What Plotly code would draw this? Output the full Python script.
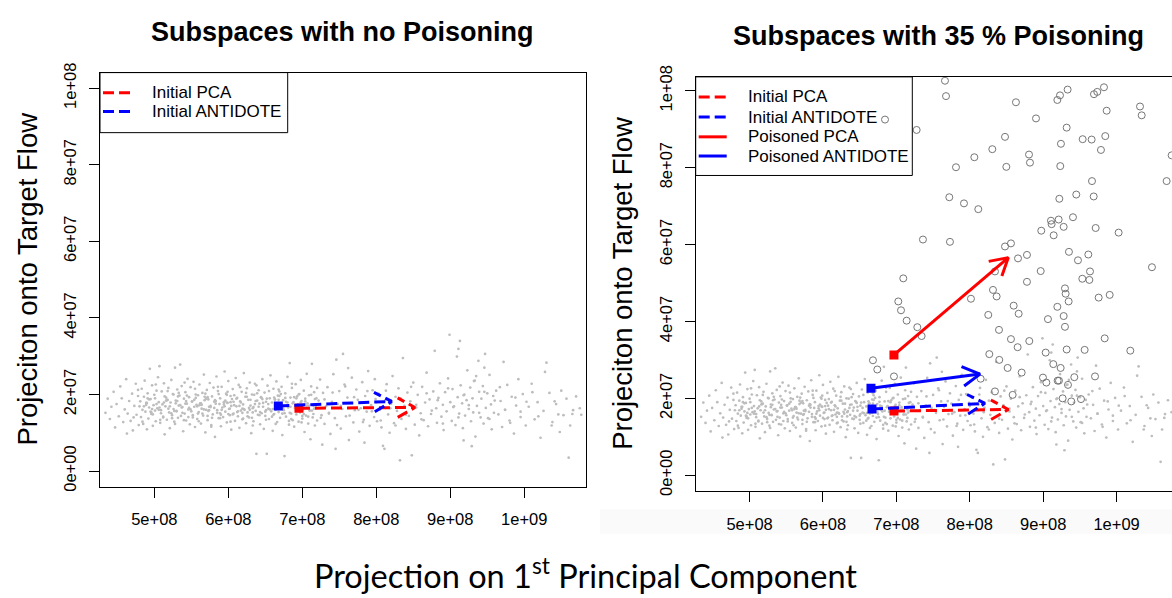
import math
import plotly.graph_objects as go

W, H = 1172, 598
M = 1e6

# ---------------- data (x and y in units of 1e6) ----------------
# background traffic cloud (approximate)
cloud_x_a = [434, 437, 440, 442, 445, 447, 449, 452, 454, 456, 458, 460, 462, 464, 466, 468, 470, 471, 473, 475,
             476, 478, 479, 480, 463]
cloud_y_a = [15.2, 18.9, 13.6, 16.8, 20.7, 11.4, 17.5, 14.3, 22.1, 19.0, 12.8, 16.1, 24.0, 15.0, 18.3, 13.1, 20.2,
             10.6, 17.0, 22.8, 14.7, 19.6, 12.0, 16.9, 9.8]

cloud_x_b = [481, 482, 483, 484, 485, 486, 487, 488, 489, 490, 491, 492, 493, 494, 495, 496, 497, 498, 499, 500,
             501, 502, 503, 504, 505, 506, 507, 508, 509, 510, 511, 512, 513, 514, 515, 516, 517, 518, 519, 520,
             521, 522, 523, 524, 525, 526, 527, 528, 529, 530, 531, 532, 533, 534, 535, 536, 537, 538, 539, 540,
             541, 542, 543, 544, 545, 546, 547, 548, 549, 550, 551, 552, 553, 554, 555, 556, 557, 558, 559, 560]
cloud_y_b = [18.2, 14.1, 21.5, 16.0, 12.3, 19.4, 23.6, 15.5, 17.8, 10.9,
             20.3, 13.7, 16.6, 26.7, 18.8, 14.9, 22.4, 11.8, 17.2, 19.9,
             15.8, 13.0, 21.0, 16.4, 24.5, 18.0, 27.4, 12.6, 15.1, 20.8,
             17.4, 14.2, 22.9, 9.6, 16.9, 19.2, 13.4, 18.6, 21.7, 15.3,
             11.2, 17.9, 23.8, 14.6, 20.1, 16.2, 12.9, 27.0, 18.4, 15.7,
             21.3, 13.9, 17.1, 19.7, 27.8, 14.4, 22.2, 16.7, 10.4, 18.9,
             15.0, 20.6, 13.2, 17.6, 24.1, 16.1, 19.3, 12.2, 21.9, 15.6,
             18.1, 14.0, 23.3, 16.8, 11.5, 20.0, 17.3, 13.6, 19.8, 15.4]

cloud_x_c = [561, 562, 563, 564, 565, 566, 567, 568, 569, 570, 571, 572, 573, 574, 575, 576, 577, 578, 579, 580,
             581, 582, 583, 584, 585, 586, 587, 588, 589, 590, 591, 592, 593, 594, 595, 596, 597, 598, 599, 600,
             601, 602, 603, 604, 605, 606, 607, 608, 609, 610, 611, 612, 613, 614, 615, 616, 617, 618, 619, 620,
             621, 622, 623, 624, 625, 626, 627, 628, 629, 630, 631, 632, 633, 634, 635, 636, 637, 638, 639, 640]
cloud_y_c = [22.6, 17.7, 12.4, 16.3, 20.4, 14.5, 25.2, 18.5, 10.1, 16.0,
             21.2, 13.3, 18.7, 15.9, 23.0, 17.0, 12.0, 19.5, 14.8, 21.8,
             16.5, 8.9, 18.3, 24.7, 15.2, 20.9, 13.8, 17.5, 19.0, 11.7,
             22.0, 16.6, 14.1, 18.0, 26.0, 15.5, 20.2, 12.7, 17.8, 23.5,
             16.2, 14.6, 19.6, 10.8, 18.8, 21.4, 15.0, 17.2, 13.1, 24.3,
             16.9, 19.1, 14.3, 22.5, 11.3, 18.2, 15.8, 20.7, 13.5, 17.4,
             25.6, 16.0, 19.4, 12.5, 21.6, 15.3, 18.6, 14.0, 23.1, 17.1,
             9.9, 20.0, 16.4, 13.0, 19.9, 22.8, 15.7, 4.5, 18.4, 14.7]

cloud_x_d = [641, 642, 643, 644, 645, 646, 647, 648, 649, 650, 651, 652, 653, 654, 655, 656, 657, 658, 659, 660,
             661, 662, 663, 664, 665, 666, 667, 668, 669, 670, 671, 672, 673, 674, 675, 676, 677, 678, 679, 680,
             681, 682, 683, 684, 685, 686, 687, 688, 689, 690, 691, 692, 693, 694, 695, 696, 697, 698, 699, 700,
             701, 702, 703, 704, 705, 706, 707, 708, 709, 710, 712, 713, 714, 715, 716, 717, 718, 719, 720, 711]
cloud_y_d = [21.1, 17.6, 12.2, 19.3, 15.1, 24.0, 16.8, 11.0, 20.5, 14.4,
             18.1, 4.5, 22.3, 16.3, 13.6, 19.0, 25.0, 15.6, 17.9, 10.5,
             21.5, 14.9, 18.7, 16.0, 23.4, 12.8, 19.7, 15.4, 20.8, 13.9,
             17.3, 22.0, 9.4, 18.5, 15.9, 3.9, 20.3, 14.2, 17.0, 24.6,
             16.6, 12.1, 28.2, 19.2, 15.0, 21.7, 13.3, 18.0, 11.6, 16.5,
             22.7, 14.8, 19.5, 17.4, 12.9, 20.1, 15.3, 23.8, 18.3, 13.7,
             16.1, 21.0, 10.2, 18.9, 14.5, 25.4, 17.7, 12.4, 19.8, 15.8,
             22.1, 28.0, 14.0, 17.1, 20.6, 11.9, 16.7, 19.0, 13.2, 8.3]

cloud_x_core = [486, 493, 498, 503, 509, 514, 519, 524, 529, 533, 538, 543, 547, 552, 556, 561, 565, 570, 574, 578,
                583, 587, 591, 596, 600, 604, 608, 613, 617, 621, 626, 630, 634, 639, 643, 647, 652, 656, 661, 665,
                669, 674, 678, 683, 687, 692, 696, 700, 704, 709, 713, 717, 489, 506, 517, 527, 542, 558, 572, 589,
                603, 619, 636, 651, 668, 684, 699, 715, 495, 531, 567, 598, 633, 662, 694]
cloud_y_core = [16.9, 18.7, 14.8, 17.5, 15.9, 19.5, 16.3, 13.8, 17.7, 20.4, 15.2, 18.3, 16.5, 14.6, 19.1, 17.2,
                15.0, 18.9, 16.8, 13.9, 17.6, 20.1, 16.0, 18.4, 14.9, 17.0, 19.8, 15.6, 17.9, 16.2, 14.3, 18.6,
                16.7, 20.3, 15.4, 17.8, 18.9, 16.1, 14.7, 17.4, 19.6, 16.4, 18.1, 15.2, 17.7, 19.0, 16.6, 14.4,
                18.2, 17.1, 15.8, 18.8, 17.3, 16.0, 18.5, 15.7, 17.6, 16.9, 19.3, 15.1, 18.0, 16.3, 17.5, 15.9,
                18.6, 16.8, 17.2, 14.9, 15.5, 18.3, 16.1, 17.9, 15.3, 19.2, 16.6]

cloud_x_band = [472, 478, 484, 491, 497, 502, 508, 513, 518, 523, 528, 532, 537, 541, 546, 551, 555, 560, 564, 569,
                573, 577, 582, 586, 590, 595, 599, 603, 607, 612, 616, 620, 625, 629, 633, 638, 642, 646, 651, 655,
                660, 664, 668, 673, 677, 682, 686, 691, 695, 699, 703, 708, 712, 716, 720, 725, 730, 736, 741, 747,
                752, 758, 764, 770, 776, 782, 788, 794, 800, 806, 813, 819, 826, 833, 840, 847, 854, 861, 868, 875,
                883, 890, 897, 904, 911, 918, 925, 932, 939, 946, 953, 960, 967, 974, 981, 988, 995, 1003, 1011, 1019]
cloud_y_band = [14.0, 21.2, 12.9, 19.0, 16.2, 22.6, 13.4, 17.9, 20.9, 15.1,
                12.3, 19.5, 16.6, 23.1, 14.1, 18.2, 21.5, 13.0, 17.3, 20.2,
                15.7, 11.6, 18.5, 22.0, 14.7, 16.9, 20.7, 12.9, 18.1, 15.4,
                21.9, 13.7, 19.4, 16.0, 11.9, 22.4, 14.6, 18.8, 13.4, 20.9,
                16.2, 12.3, 21.3, 15.0, 19.1, 13.1, 22.8, 16.9, 20.0, 12.7,
                17.5, 14.2, 19.9, 16.3, 21.7, 13.9, 18.7, 15.0, 20.5, 12.0,
                17.0, 22.1, 14.5, 19.3, 16.0, 12.8, 20.9, 15.6, 18.0, 13.2,
                21.0, 16.4, 11.9, 19.0, 14.7, 22.0, 17.3, 13.5, 20.3, 15.8,
                18.5, 12.4, 21.6, 16.7, 14.0, 19.8, 17.2, 23.5, 15.2, 20.7,
                13.6, 18.4, 21.9, 16.0, 12.6, 19.2, 15.5, 18.1, 20.6, 14.3]

cloud_x_dense = [490, 496, 501, 507, 512, 516, 521, 526, 530, 535, 540, 544, 549, 554, 559, 563, 568, 572, 576, 581,
                 585, 589, 594, 598, 602, 606, 611, 615, 619, 624, 628, 632, 637, 641, 645, 650, 654, 659, 663, 667,
                 671, 676, 680, 685, 689, 693, 698, 702, 706, 710]
cloud_y_dense = [17.8, 15.3, 19.0, 16.6, 14.0, 18.4, 16.9, 20.0, 15.6, 17.2,
                 13.3, 19.7, 16.1, 18.6, 15.0, 17.7, 19.4, 14.4, 16.7, 18.1,
                 15.9, 13.8, 17.4, 19.9, 16.3, 14.8, 18.9, 17.0, 15.2, 20.4,
                 16.5, 13.9, 18.3, 16.8, 19.1, 15.5, 17.5, 14.2, 18.7, 16.2,
                 20.1, 15.1, 17.9, 13.6, 19.3, 16.4, 18.0, 14.9, 17.1, 15.8]

cloud_x_e = [722, 724, 726, 728, 730, 732, 734, 736, 738, 740, 742, 744, 746, 748, 750, 752, 754, 755, 757, 759,
             761, 763, 765, 767, 769, 771, 773, 775, 777, 779, 781, 783, 785, 787, 789, 791, 793, 795, 797, 799,
             727, 745, 762, 784, 798]
cloud_y_e = [18.4, 23.9, 14.6, 20.4, 12.3, 16.9, 21.9, 15.2, 9.7, 18.1, 25.3, 13.8, 29.1, 17.5, 20.9, 11.1, 16.2,
             30.6, 22.6, 14.3, 19.2, 8.1, 17.8, 24.4, 12.7, 15.9, 21.3, 18.6, 10.3, 16.4, 23.2, 13.4, 19.6, 15.5,
             26.1, 11.8, 17.2, 21.1, 14.1, 18.8, 6.9, 5.8, 26.9, 7.4, 24.0]

cloud_x_f = [801, 803, 805, 807, 809, 811, 812, 814, 816, 818, 820, 822, 824, 826, 828, 830, 832, 834, 836, 838,
             840, 842, 844, 846, 848, 850, 852, 854, 856, 858, 860, 862, 864, 866, 868, 870, 872, 874, 877, 879]
cloud_y_f = [13.0, 20.2, 16.0, 11.4, 6.6, 5.8, 18.4, 22.7, 14.8, 10.0, 17.6, 24.8, 12.5, 19.4, 15.7, 21.6, 2.8,
             13.6, 29.5, 17.0, 11.0, 20.5, 14.4, 18.2, 4.1, 23.1, 12.1, 16.6, 19.9, 9.3, 15.1, 22.0, 13.3, 17.9,
             25.7, 11.7, 18.7, 14.9, 20.8, 31.4]

cloud_x_g = [881, 882, 884, 886, 888, 890, 891, 893, 895, 897, 899, 900, 902, 903, 905, 907, 909, 910, 911, 912,
             913, 914, 916, 917, 919, 920, 922, 923, 925, 927, 928, 930, 931, 933, 934, 936, 938, 939, 941, 942,
             944, 945, 947, 948, 950, 951, 953, 955, 956, 958, 959, 935, 918, 929, 946]
cloud_y_g = [16.4, 12.6, 19.1, 22.9, 14.2, 17.3, 10.7, 20.6, 15.6, 24.2, 35.6, 18.0, 13.1, 21.4, 16.9, 12.0, 29.9,
             19.3, 31.9, 15.0, 34.0, 22.4, 17.7, 11.2, 20.0, 14.5, 18.5, 26.3, 16.2, 21.8, 13.0, 19.0, 15.3, 23.6,
             9.0, 17.0, 28.8, 20.7, 14.0, 18.9, 22.2, 12.4, 30.6, 16.5, 20.3, 13.8, 25.1, 17.4, 10.9, 19.6, 15.2,
             24.8, 8.0, 6.5, 27.0]

cloud_x_h = [962, 965, 968, 970, 972, 974, 977, 980, 983, 986, 989, 992, 995, 998, 1002, 1006, 1010, 1014, 1018,
             1022, 1026, 1028, 1030, 1034, 1038, 1043, 1048, 1053, 1057, 1060, 1066, 1075,
             1046, 1065, 1077, 1037, 1062, 1041, 1050, 1070]
cloud_y_h = [21.0, 14.8, 18.3, 11.5, 28.5, 16.0, 22.5, 13.2, 19.4, 9.8, 17.1, 24.0, 14.1, 20.1, 11.9, 16.8, 22.8,
             13.5, 18.0, 8.7, 15.7, 25.9, 28.3, 20.4, 12.8, 17.5, 10.2, 14.6, 18.9, 3.5, 15.9, 16.4,
             14.8, 14.9, 14.7, 11.9, 11.9, 18.2, 21.0, 19.5]

# poisoning flows (open circles, right panel)
poison_x = [684.5, 727.6, 766.2, 767.6, 862.9, 919.3, 922.9, 933.3, 969.2, 973.7, 982.8, 986.5, 1031.9, 1034.2,
            890.2, 932.0, 848.0, 953.8, 966.0, 984.6, 924.2, 978.7, 830.7, 806.2, 880.7, 882.0, 781.2, 849.8,
            923.3, 966.5, 1068.2, 1075.0, 772.1, 792.1, 811.6, 922.0, 945.1, 968.8, 910.6, 911.5, 921.1, 940.6,
            897.4, 914.3, 927.9, 971.5, 1002.8, 736.2, 773.0,
            848.0, 856.1, 865.7, 877.9, 935.1, 947.4, 961.5, 896.6, 963.8, 953.3, 962.9, 1048.2, 709.4, 834.3,
            877.9, 831.6, 836.6, 801.6, 929.7, 930.6, 934.7, 975.6, 990.6, 702.6, 706.3, 714.0, 728.5, 734.4,
            825.2, 859.8, 866.6, 919.3, 906.5, 927.9, 929.7, 839.8, 856.1, 865.2, 881.1, 983.8, 932.0, 956.5,
            1018.7, 826.6, 840.2, 851.6, 870.7, 903.4, 913.8, 923.8, 668.1, 674.0, 696.7, 814.8, 899.7, 904.3,
            919.7, 921.5, 933.8, 942.4, 970.6, 834.3, 858.4, 926.5, 938.3, 951.5]
poison_y = [92.5, 89.8, 102.6, 98.6, 97.0, 97.6, 98.8, 100.3, 99.1, 99.7, 100.9, 94.8, 95.9, 93.6,
            92.8, 90.4, 88.0, 87.4, 87.3, 88.2, 86.2, 84.6, 84.8, 82.7, 83.4, 81.3, 80.1, 80.2,
            80.4, 76.5, 76.5, 83.2, 72.3, 70.7, 69.2, 71.9, 73.0, 72.5, 66.2, 65.3, 66.5, 67.1,
            63.6, 62.4, 64.6, 64.3, 63.1, 61.3, 60.7,
            59.5, 60.3, 56.4, 57.3, 58.1, 55.9, 57.4, 53.1, 53.0, 51.1, 50.8, 54.1, 51.2, 53.0,
            50.3, 48.2, 46.5, 45.9, 48.6, 47.2, 45.2, 46.2, 46.9, 45.2, 42.9, 40.2, 38.5, 36.2,
            41.7, 44.1, 42.0, 43.8, 40.6, 41.4, 38.6, 37.8, 35.4, 33.3, 34.9, 35.6, 32.7, 32.6,
            32.4, 31.5, 30.0, 27.9, 26.7, 31.9, 28.9, 27.9, 29.9, 27.5, 25.7, 25.1, 25.4, 24.1,
            24.6, 24.6, 23.5, 25.5, 25.7, 21.8, 20.9, 20.0, 19.2, 19.8]

# arrows: name -> (start x, start y, end x, end y)
left_arrows = {
    "Initial PCA": (695.5, 16.4, 852.3, 16.6),
    "Initial ANTIDOTE": (667.6, 17.0, 820.8, 18.2),
}
right_arrows = {
    "Initial PCA": (696.7, 16.7, 852.5, 17.1),
    "Initial ANTIDOTE": (666.8, 17.2, 820.6, 18.7),
    "Poisoned PCA": (696.7, 31.3, 852.5, 56.6),
    "Poisoned ANTIDOTE": (665.4, 22.6, 813.9, 26.3),
}
arrow_color = {"Initial PCA": "#ff0000", "Initial ANTIDOTE": "#0000ff",
               "Poisoned PCA": "#ff0000", "Poisoned ANTIDOTE": "#0000ff"}
arrow_dashed = {"Initial PCA": True, "Initial ANTIDOTE": True,
                "Poisoned PCA": False, "Poisoned ANTIDOTE": False}

x_tick_vals = [5e8, 6e8, 7e8, 8e8, 9e8, 1e9]
x_tick_text = ["5e+08", "6e+08", "7e+08", "8e+08", "9e+08", "1e+09"]
y_tick_vals = [0, 2e7, 4e7, 6e7, 8e7, 1e8]
y_tick_text = ["0e+00", "2e+07", "4e+07", "6e+07", "8e+07", "1e+08"]

# ---------------- geometry (pixels) ----------------
LEFT = dict(x0=100.0, x1=585.7, y0=63.3, y1=488.7, xr=(426.6 * M, 1083.0 * M), yr=(-4.07 * M, 104.07 * M),
            leg_x1=287.7, leg_y1=125.0, rows=[84.0, 103.3])
RIGHT = dict(x0=695.7, x1=1172.0, y0=67.7, y1=493.0, xr=(426.6 * M, 1075.5 * M), yr=(-4.05 * M, 103.6 * M),
             leg_x1=912.3, leg_y1=169.0, rows=[88.3, 109.0, 129.3, 149.0])

DASH = "11px,5px"
FONT = "Liberation Sans, Arial, sans-serif"

cloud_x = (cloud_x_a + cloud_x_b + cloud_x_c + cloud_x_d + cloud_x_core + cloud_x_band + cloud_x_dense
           + cloud_x_e + cloud_x_f + cloud_x_g + cloud_x_h)
cloud_y = (cloud_y_a + cloud_y_b + cloud_y_c + cloud_y_d + cloud_y_core + cloud_y_band + cloud_y_dense
           + cloud_y_e + cloud_y_f + cloud_y_g + cloud_y_h)
n = min(len(cloud_x), len(cloud_y))
cloud_x = [v * M for v in cloud_x[:n]]
cloud_y = [v * M for v in cloud_y[:n]]


def px(xp):
    return xp / W


def py(yp):
    return 1 - yp / H


def arrow_head(g, x0, y0, x1, y1, length=20.0, ang=30.0):
    sx = (g["x1"] - g["x0"]) / (g["xr"][1] - g["xr"][0])
    sy = (g["y1"] - g["y0"]) / (g["yr"][1] - g["yr"][0])
    dx, dy = (x0 - x1) * sx, (y0 - y1) * sy
    nn = math.hypot(dx, dy)
    ux, uy = dx / nn, dy / nn
    pts = []
    for a in (ang, -ang):
        r = math.radians(a)
        vx = ux * math.cos(r) - uy * math.sin(r)
        vy = ux * math.sin(r) + uy * math.cos(r)
        pts.append((x1 + vx * length / sx, y1 + vy * length / sy))
    return pts


fig = go.Figure()
shapes = []
annotations = []


def add_panel(g, xa, ya, arrows, with_poison):
    fig.add_trace(go.Scatter(x=cloud_x, y=cloud_y, mode="markers", xaxis=xa, yaxis=ya,
                             marker=dict(color="#bdbdbd", size=2.7, line=dict(width=0)),
                             showlegend=False, hoverinfo="skip"))
    if with_poison:
        fig.add_trace(go.Scatter(x=[v * M for v in poison_x], y=[v * M for v in poison_y], mode="markers",
                                 xaxis=xa, yaxis=ya,
                                 marker=dict(symbol="circle-open", color="#767676", size=7,
                                             line=dict(width=1, color="#767676")),
                                 showlegend=False, hoverinfo="skip"))
    for name, (sx0, sy0, ex1, ey1) in arrows.items():
        x0, y0, x1, y1 = sx0 * M, sy0 * M, ex1 * M, ey1 * M
        (hx1, hy1), (hx2, hy2) = arrow_head(g, x0, y0, x1, y1)
        fig.add_trace(go.Scatter(x=[x0, x1, None, hx1, x1, hx2], y=[y0, y1, None, hy1, y1, hy2],
                                 mode="lines", xaxis=xa, yaxis=ya, name=name,
                                 line=dict(color=arrow_color[name], width=3,
                                           dash=DASH if arrow_dashed[name] else "solid"),
                                 showlegend=False, hoverinfo="skip"))
        fig.add_trace(go.Scatter(x=[x0], y=[y0], mode="markers", xaxis=xa, yaxis=ya,
                                 marker=dict(symbol="square", size=9, color=arrow_color[name]),
                                 showlegend=False, hoverinfo="skip"))
    # R-style legend box (transparent background)
    shapes.append(dict(type="rect", xref="paper", yref="paper", x0=px(g["x0"]), x1=px(g["leg_x1"]),
                       y0=py(g["leg_y1"]), y1=py(g["y0"]), line=dict(color="black", width=1),
                       fillcolor="rgba(0,0,0,0)", layer="above"))
    for name, row in zip(arrows, g["rows"]):
        shapes.append(dict(type="line", xref="paper", yref="paper", x0=px(g["x0"] + 3), x1=px(g["x0"] + 31),
                           y0=py(row), y1=py(row),
                           line=dict(color=arrow_color[name], width=3,
                                     dash=DASH if arrow_dashed[name] else "solid"), layer="above"))
        annotations.append(dict(text=name, x=px(g["x0"] + 50), y=py(row), xref="paper", yref="paper",
                                showarrow=False, xanchor="left", yanchor="middle",
                                font=dict(family=FONT, size=17, color="black")))


add_panel(LEFT, "x", "y", left_arrows, False)
add_panel(RIGHT, "x2", "y2", right_arrows, True)


def xaxis_cfg(g, anchor):
    return dict(domain=[g["x0"] / W, g["x1"] / W], range=list(g["xr"]), anchor=anchor,
                tickvals=x_tick_vals, ticktext=x_tick_text, ticks="outside", ticklen=10,
                tickcolor="black", tickwidth=1, showline=True, linecolor="black", linewidth=1,
                mirror=True, showgrid=False, zeroline=False, ticklabelstandoff=8,
                tickfont=dict(family=FONT, size=16.5, color="black"))


def yaxis_cfg(g, anchor, mirror):
    return dict(domain=[1 - g["y1"] / H, 1 - g["y0"] / H], range=list(g["yr"]), anchor=anchor,
                tickvals=y_tick_vals, ticktext=y_tick_text, ticks="outside", ticklen=10,
                tickcolor="black", tickwidth=1, showline=True, linecolor="black", linewidth=1,
                mirror=mirror, showgrid=False, zeroline=False, tickangle=-90, ticklabelstandoff=6,
                tickfont=dict(family=FONT, size=16.5, color="black"))


annotations += [
    dict(text="<b>Subspaces with no Poisoning</b>", x=px((LEFT["x0"] + LEFT["x1"]) / 2), y=py(22),
         xref="paper", yref="paper", showarrow=False, xanchor="center", yanchor="middle",
         font=dict(family=FONT, size=27, color="black")),
    dict(text="<b>Subspaces with 35 % Poisoning</b>", x=px(RIGHT["x0"] + 485.7 / 2), y=py(26),
         xref="paper", yref="paper", showarrow=False, xanchor="center", yanchor="middle",
         font=dict(family=FONT, size=27, color="black")),
    dict(text="Projeciton onto Target Flow", x=px(28), y=py((LEFT["y0"] + LEFT["y1"]) / 2),
         xref="paper", yref="paper", showarrow=False, textangle=-90, xanchor="center", yanchor="middle",
         font=dict(family=FONT, size=27.5, color="black")),
    dict(text="Projeciton onto Target Flow", x=px(623), y=py((RIGHT["y0"] + RIGHT["y1"]) / 2),
         xref="paper", yref="paper", showarrow=False, textangle=-90, xanchor="center", yanchor="middle",
         font=dict(family=FONT, size=27.5, color="black")),
    dict(text="Projection on 1<sup>st</sup> Principal Component", x=px(585), y=py(578),
         xref="paper", yref="paper", showarrow=False, xanchor="center", yanchor="middle",
         font=dict(family="Lato, Open Sans, sans-serif", size=32.5, color="black")),
]

shapes.append(dict(type="rect", xref="paper", yref="paper", x0=px(600), x1=1.0, y0=py(537), y1=py(512),
                   fillcolor="#fafafa", line=dict(width=0), layer="below"))

fig.update_layout(
    width=W, height=H, margin=dict(l=0, r=0, t=0, b=0, pad=0),
    paper_bgcolor="white", plot_bgcolor="rgba(0,0,0,0)", showlegend=False,
    xaxis=xaxis_cfg(LEFT, "y"), yaxis=yaxis_cfg(LEFT, "x", True),
    xaxis2=xaxis_cfg(RIGHT, "y2"), yaxis2=yaxis_cfg(RIGHT, "x2", False),
    annotations=annotations, shapes=shapes,
)

fig.write_html("out.html")
